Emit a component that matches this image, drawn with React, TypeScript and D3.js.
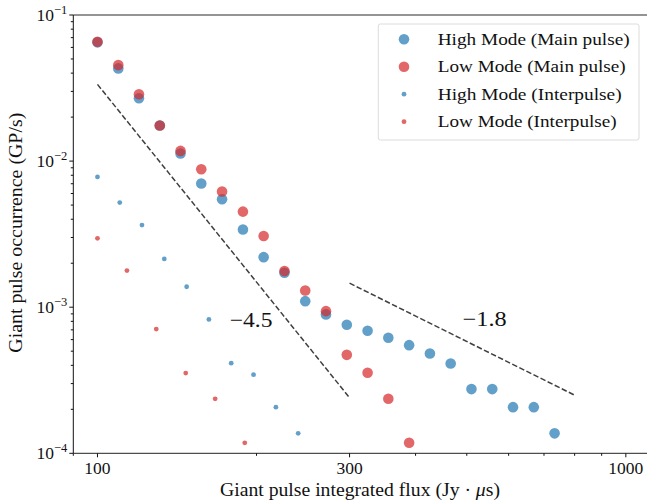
import React from "react";
import * as d3 from "d3";

const mainX = [100, 109.5, 119.8, 131.2, 143.6, 157.2, 172.1, 188.5, 206.3, 225.9, 247.3, 270.7, 296.4, 324.5, 355.2, 388.9, 425.8, 466.1, 510.3, 558.7, 611.6, 669.6, 733.1];
const highMain = [0.065, 0.0431, 0.0269, 0.01754, 0.01127, 0.00702, 0.00548, 0.0034, 0.0022, 0.00172, 0.0011, 0.000893, 0.000759, 0.00069, 0.000618, 0.00055, 0.000482, 0.000412, 0.000275, 0.000275, 0.000207, 0.000207, 0.000137];
const lowMain = [0.0656, 0.0454, 0.0287, 0.01754, 0.01174, 0.0088, 0.00619, 0.00451, 0.00307, 0.00177, 0.0013, 0.00094, 0.000472, 0.000356, 0.000236, 0.000118];

const highInterX = [100, 110.2, 121.4, 133.8, 147.5, 162.5, 179.1, 197.4, 217.6, 239.8];
const highInter = [0.00779, 0.0052, 0.00365, 0.00214, 0.00138, 0.000825, 0.000414, 0.000345, 0.000207, 0.000137];
const lowInterX = [100, 113.7, 129.2, 146.9, 167.0, 190.0];
const lowInter = [0.00296, 0.00178, 0.000708, 0.000354, 0.000236, 0.000118];

const fitSteepX = [100, 300];
const fitSteepY = [0.0335, 0.00024];
const fitShallowX = [300, 800];
const fitShallowY = [0.00146, 0.00025];

const xTickLabels = [100, 300, 1000];
const xMinorTicks = [90, 200, 400, 500, 600, 700, 800, 900];
const yTickExps = [-4, -3, -2, -1];

const legendLabels = [
  "High Mode (Main pulse)",
  "Low Mode (Main pulse)",
  "High Mode (Interpulse)",
  "Low Mode (Interpulse)",
];
const legendWidths = [192, 188, 184, 179];

const BLUE = "rgb(31,119,180)";
const RED = "rgb(214,39,40)";
const T = { fontFamily: '"Liberation Serif", "Times New Roman", serif' };

export default function App() {
  const W = 647, H = 502;
  const left = 73.3, right = 647.7, top = 15, bottom = 453.3;
  const x = d3.scaleLog().domain([90, 1100]).range([left, right]);
  const y = d3.scaleLog().domain([1e-4, 1e-1]).range([bottom, top]);

  const yMinor: number[] = [];
  for (let e = -4; e < -1; e++) for (let m = 2; m <= 9; m++) yMinor.push(m * Math.pow(10, e));

  const line = d3.line<[number, number]>().x(d => x(d[0])).y(d => y(d[1]));
  const steep: [number, number][] = fitSteepX.map((v, i) => [v, fitSteepY[i]]);
  const shallow: [number, number][] = fitShallowX.map((v, i) => [v, fitShallowY[i]]);

  const series = [
    { xs: mainX, ys: highMain, color: BLUE, r: 5.3 },
    { xs: mainX, ys: lowMain, color: RED, r: 5.3 },
    { xs: highInterX, ys: highInter, color: BLUE, r: 2.4 },
    { xs: lowInterX, ys: lowInter, color: RED, r: 2.4 },
  ];

  return (
    <svg width={W} height={H} style={{ position: "absolute", left: 0, top: 0 }}>
      <rect width={W} height={H} fill="white" />
      <defs>
        <clipPath id="plot">
          <rect x={left} y={top} width={right - left} height={bottom - top} />
        </clipPath>
      </defs>
      <g clipPath="url(#plot)">
        {series.map((s, si) =>
          s.ys.map((v, i) => (
            <circle key={si + "-" + i} cx={x(s.xs[i])} cy={y(v)} r={s.r} fill={s.color} fillOpacity={0.7} />
          ))
        )}
        <path d={line(steep) || ""} fill="none" stroke="#404040" strokeWidth={1.5} strokeDasharray="5.5,2.4" />
        <path d={line(shallow) || ""} fill="none" stroke="#404040" strokeWidth={1.5} strokeDasharray="5.5,2.4" />
      </g>
      <text style={T} x={x(178)} y={y(0.000729)} fontSize={21} fill="#111" textLength={42.7} lengthAdjust="spacingAndGlyphs">−4.5</text>
      <text style={T} x={x(491)} y={y(0.000738)} fontSize={21} fill="#111" textLength={44} lengthAdjust="spacingAndGlyphs">−1.8</text>

      <line x1={left} x2={W} y1={top} y2={top} stroke="#707070" strokeWidth={1.3} />
      <line x1={left} x2={left} y1={top} y2={bottom} stroke="#111" strokeWidth={1} />
      <line x1={left} x2={W} y1={bottom} y2={bottom} stroke="#222" strokeWidth={1} />

      {xTickLabels.map(t => (
        <g key={"xt" + t}>
          <line x1={x(t)} x2={x(t)} y1={bottom} y2={bottom + 4} stroke="#111" />
          <text style={T} x={x(t)} y={bottom + 21} fontSize={17.5} textAnchor="middle" fill="#111">{t}</text>
        </g>
      ))}
      {xMinorTicks.map(t => (
        <line key={"xm" + t} x1={x(t)} x2={x(t)} y1={bottom} y2={bottom + 2.5} stroke="#111" />
      ))}

      {yTickExps.map(e => (
        <g key={"yt" + e}>
          <line x1={left - 4} x2={left} y1={y(Math.pow(10, e))} y2={y(Math.pow(10, e))} stroke="#111" />
          <text style={T} x={left - 6} y={y(Math.pow(10, e)) + 5.5} fontSize={17.5} textAnchor="end" fill="#111">
            10<tspan fontSize={12.5} dy={-7}>{"−" + Math.abs(e)}</tspan>
          </text>
        </g>
      ))}
      {yMinor.map((t, i) => (
        <line key={"ym" + i} x1={left - 2.5} x2={left} y1={y(t)} y2={y(t)} stroke="#111" />
      ))}

      <text style={T} x={220} y={496} fontSize={18} fill="#111" textLength={280} lengthAdjust="spacingAndGlyphs">
        Giant pulse integrated flux (Jy · <tspan fontStyle="italic">μ</tspan>s)
      </text>
      <text style={T} transform={`translate(22, 352.7) rotate(-90)`} fontSize={18} fill="#111" textLength={240} lengthAdjust="spacingAndGlyphs">
        Giant pulse occurrence (GP/s)
      </text>

      <rect x={378.3} y={24} width={260.7} height={116} rx={2} fill="white" fillOpacity={0.8} stroke="#dcdcdc" />
      {legendLabels.map((lab, i) => {
        const s = series[i];
        const ry = 39.3 + i * 27.45;
        return (
          <g key={"lg" + i}>
            <circle cx={404} cy={ry} r={s.r} fill={s.color} fillOpacity={0.7} />
            <text style={T} x={437.7} y={ry + 5.5} fontSize={17.5} fill="#111" textLength={legendWidths[i]} lengthAdjust="spacingAndGlyphs">{lab}</text>
          </g>
        );
      })}
    </svg>
  );
}
